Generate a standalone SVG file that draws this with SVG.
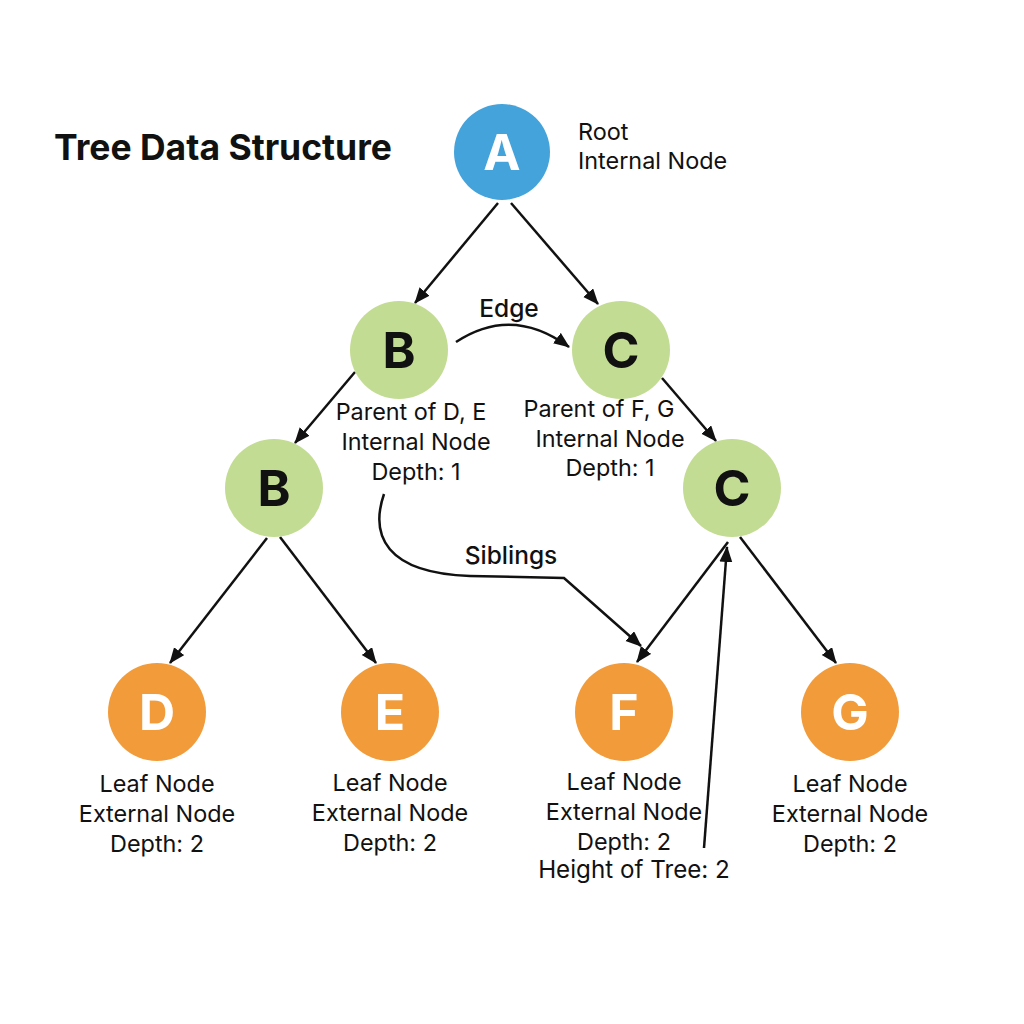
<svg xmlns="http://www.w3.org/2000/svg" width="1024" height="1024" viewBox="0 0 1024 1024">
<defs>
<marker id="ah" markerUnits="userSpaceOnUse" markerWidth="16" markerHeight="14" refX="15" refY="6.5" orient="auto">
<path d="M0,0 L16,6.5 L0,13 Z" fill="#111"/>
</marker>
<style>
.lbl{font-family:Inter,"Liberation Sans",sans-serif;font-size:23.4px;fill:#111;text-anchor:middle}
.mid{font-weight:500;font-size:24.5px}
.ttl{font-family:Inter,"Liberation Sans",sans-serif;font-size:35.5px;font-weight:bold;fill:#111}
.let{font-family:Inter,"Liberation Sans",sans-serif;font-size:50px;font-weight:bold;text-anchor:middle}
.blue{fill:#45A3DB}
.green{fill:#C3DC93}
.orange{fill:#F29B3B}
.e{stroke:#111;stroke-width:2.5;fill:none;marker-end:url(#ah)}
</style>
</defs>
<rect width="1024" height="1024" fill="#ffffff"/>
<text class="ttl" x="54" y="160">Tree Data Structure</text>
<g id="connectors">
<line class="e" x1="498" y1="203" x2="415" y2="303"/>
<line class="e" x1="511" y1="203" x2="598" y2="304"/>
<line class="e" x1="355" y1="372" x2="295" y2="443"/>
<line class="e" x1="662" y1="378" x2="716" y2="441"/>
<line class="e" x1="267" y1="538" x2="170" y2="663"/>
<line class="e" x1="280" y1="537" x2="376" y2="663"/>
<line class="e" x1="728" y1="542" x2="637" y2="662"/>
<line class="e" x1="740" y1="537" x2="836" y2="663"/>
<path class="e" d="M456,342 Q512,305 569,347"/>
<path class="e" d="M384,494 C370,535 385,573 470,576 L564,578 L641,646"/>
<line class="e" x1="704" y1="848" x2="727" y2="547"/>
<text class="lbl mid" x="509" y="317">Edge</text>
<text class="lbl mid" x="511" y="564">Siblings</text>
</g>
<g id="nodeA">
<circle class="blue" cx="502" cy="152" r="48"/>
<text class="let" x="502" y="170" fill="#fff">A</text>
<text class="lbl" x="578" y="140" style="text-anchor:start">Root</text>
<text class="lbl" x="578" y="169" style="text-anchor:start">Internal Node</text>
</g>
<g id="nodeB1">
<circle class="green" cx="399" cy="350" r="49"/>
<text class="let" x="399" y="368" fill="#111">B</text>
<text class="lbl" x="411" y="420">Parent of D, E</text>
<text class="lbl" x="416" y="450">Internal Node</text>
<text class="lbl" x="416" y="480">Depth: 1</text>
</g>
<g id="nodeC1">
<circle class="green" cx="621" cy="350" r="49"/>
<text class="let" x="621" y="368" fill="#111">C</text>
<text class="lbl" x="599" y="417">Parent of F, G</text>
<text class="lbl" x="610" y="447">Internal Node</text>
<text class="lbl" x="610" y="476">Depth: 1</text>
</g>
<g id="nodeB2">
<circle class="green" cx="274" cy="488" r="49"/>
<text class="let" x="274" y="506" fill="#111">B</text>
</g>
<g id="nodeC2">
<circle class="green" cx="732" cy="488" r="49"/>
<text class="let" x="732" y="506" fill="#111">C</text>
</g>
<g id="nodeD">
<circle class="orange" cx="157" cy="712" r="49"/>
<text class="let" x="157" y="730" fill="#fff">D</text>
<text class="lbl" x="157" y="792">Leaf Node</text>
<text class="lbl" x="157" y="822">External Node</text>
<text class="lbl" x="157" y="852">Depth: 2</text>
</g>
<g id="nodeE">
<circle class="orange" cx="390" cy="712" r="49"/>
<text class="let" x="390" y="730" fill="#fff">E</text>
<text class="lbl" x="390" y="791">Leaf Node</text>
<text class="lbl" x="390" y="821">External Node</text>
<text class="lbl" x="390" y="851">Depth: 2</text>
</g>
<g id="nodeF">
<circle class="orange" cx="624" cy="712" r="49"/>
<text class="let" x="624" y="730" fill="#fff">F</text>
<text class="lbl" x="624" y="790">Leaf Node</text>
<text class="lbl" x="624" y="820">External Node</text>
<text class="lbl" x="624" y="850">Depth: 2</text>
<text class="lbl" x="634" y="878" style="font-size:24.2px">Height of Tree: 2</text>
</g>
<g id="nodeG">
<circle class="orange" cx="850" cy="712" r="49"/>
<text class="let" x="850" y="730" fill="#fff">G</text>
<text class="lbl" x="850" y="792">Leaf Node</text>
<text class="lbl" x="850" y="822">External Node</text>
<text class="lbl" x="850" y="852">Depth: 2</text>
</g>
</svg>
